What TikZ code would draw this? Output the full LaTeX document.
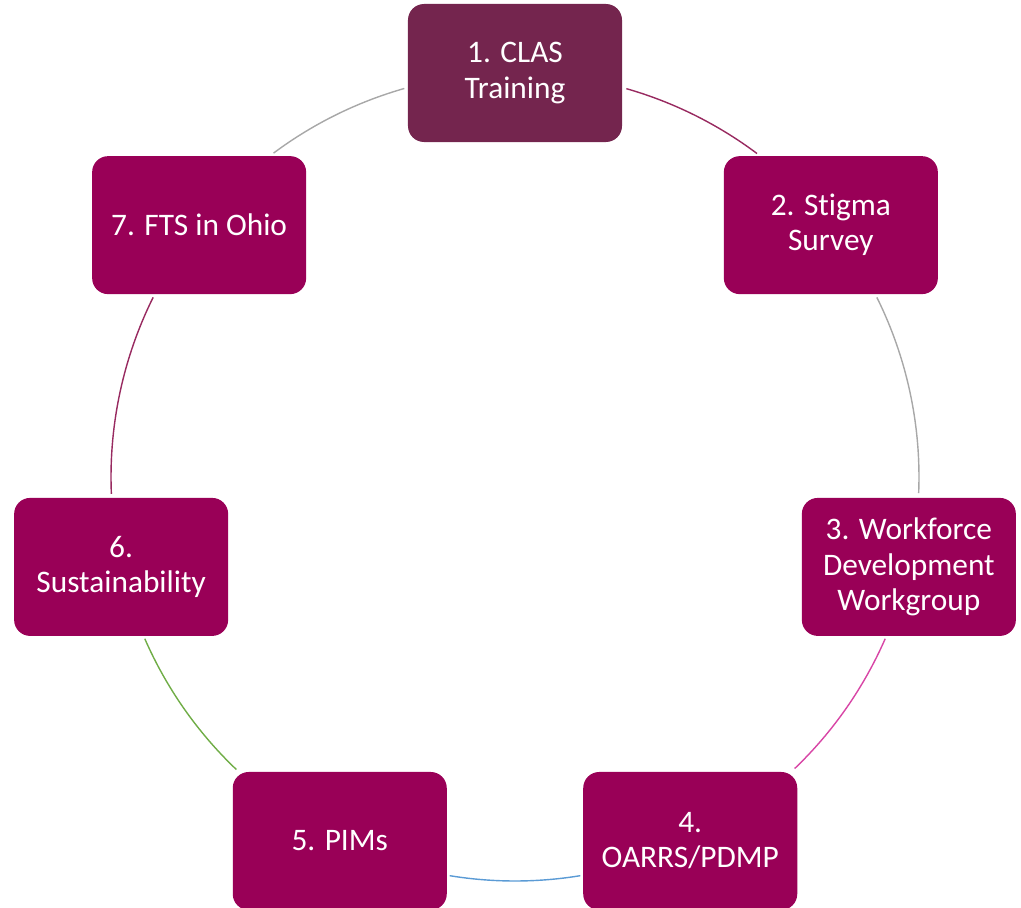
\documentclass[tikz,border=0pt]{standalone}
\usepackage{fontspec}
\setmainfont[Ligatures=NoCommon]{Carlito}
\usepackage{tikz}
\usetikzlibrary{arrows}
\definecolor{clasplum}{RGB}{116,37,78}
\definecolor{boxberry}{RGB}{153,0,87}
\definecolor{arcberry}{RGB}{152,42,96}
\definecolor{arcgray}{RGB}{168,168,168}
\definecolor{arcpink}{RGB}{216,70,166}
\definecolor{arcblue}{RGB}{91,155,213}
\definecolor{arcgreen}{RGB}{112,173,71}
\tikzset{
  stepbox/.style={draw=none, fill=boxberry, rounded corners=0.4cm,
    minimum width=5.35cm, minimum height=3.45cm, text=white, align=center,
    font=\fontsize{22.3}{25}\selectfont},
  ring/.style={line width=1pt}
}

\begin{document}
\begin{tikzpicture}
	\useasboundingbox (-12.875,-10.75) rectangle (12.65,11.925);
	\def\R{10.1}
	%%  Steps  %%%%%%%%
	\node[stepbox, fill=clasplum] (clas) at (90:\R) {1. CLAS\\Training};
	\node[stepbox] (stigma) at (38.57:\R) {2. Stigma\\Survey};
	\node[stepbox] (workforce) at (-12.86:\R) {3. Workforce\\Development\\Workgroup};
	\node[stepbox] (oarrs) at (-64.29:\R) {4.\\OARRS/PDMP};
	\node[stepbox] (pims) at (-115.71:\R) {5. PIMs};
	\node[stepbox] (sustain) at (-167.14:\R) {6.\\Sustainability};
	\node[stepbox] (fts) at (141.43:\R) {7. FTS in Ohio};
	%%  Ring  %%%%%%%%
	\coordinate (clas-stigma) at (74:\R);
	\coordinate (stigma-workforce) at (26.4:\R);
	\coordinate (workforce-oarrs) at (-23.6:\R);
	\coordinate (oarrs-pims) at (-80.7:\R);
	\coordinate (pims-sustain) at (-133.6:\R);
	\coordinate (sustain-fts) at (-177.6:\R);
	\coordinate (fts-clas) at (126.7:\R);
	\draw[ring, arcberry] (clas-stigma) arc[start angle=74, end angle=53.2, radius=\R];
	\draw[ring, arcgray] (stigma-workforce) arc[start angle=26.4, end angle=-2.3, radius=\R];
	\draw[ring, arcpink] (workforce-oarrs) arc[start angle=-23.6, end angle=-46.2, radius=\R];
	\draw[ring, arcblue] (oarrs-pims) arc[start angle=-80.7, end angle=-99.3, radius=\R];
	\draw[ring, arcgreen] (pims-sustain) arc[start angle=-133.6, end angle=-156.4, radius=\R];
	\draw[ring, arcberry] (sustain-fts) arc[start angle=-177.6, end angle=-206.4, radius=\R];
	\draw[ring, arcgray] (fts-clas) arc[start angle=126.7, end angle=105.9, radius=\R];
	%%%%%%%%%%%%%%%
\end{tikzpicture}
\end{document}
